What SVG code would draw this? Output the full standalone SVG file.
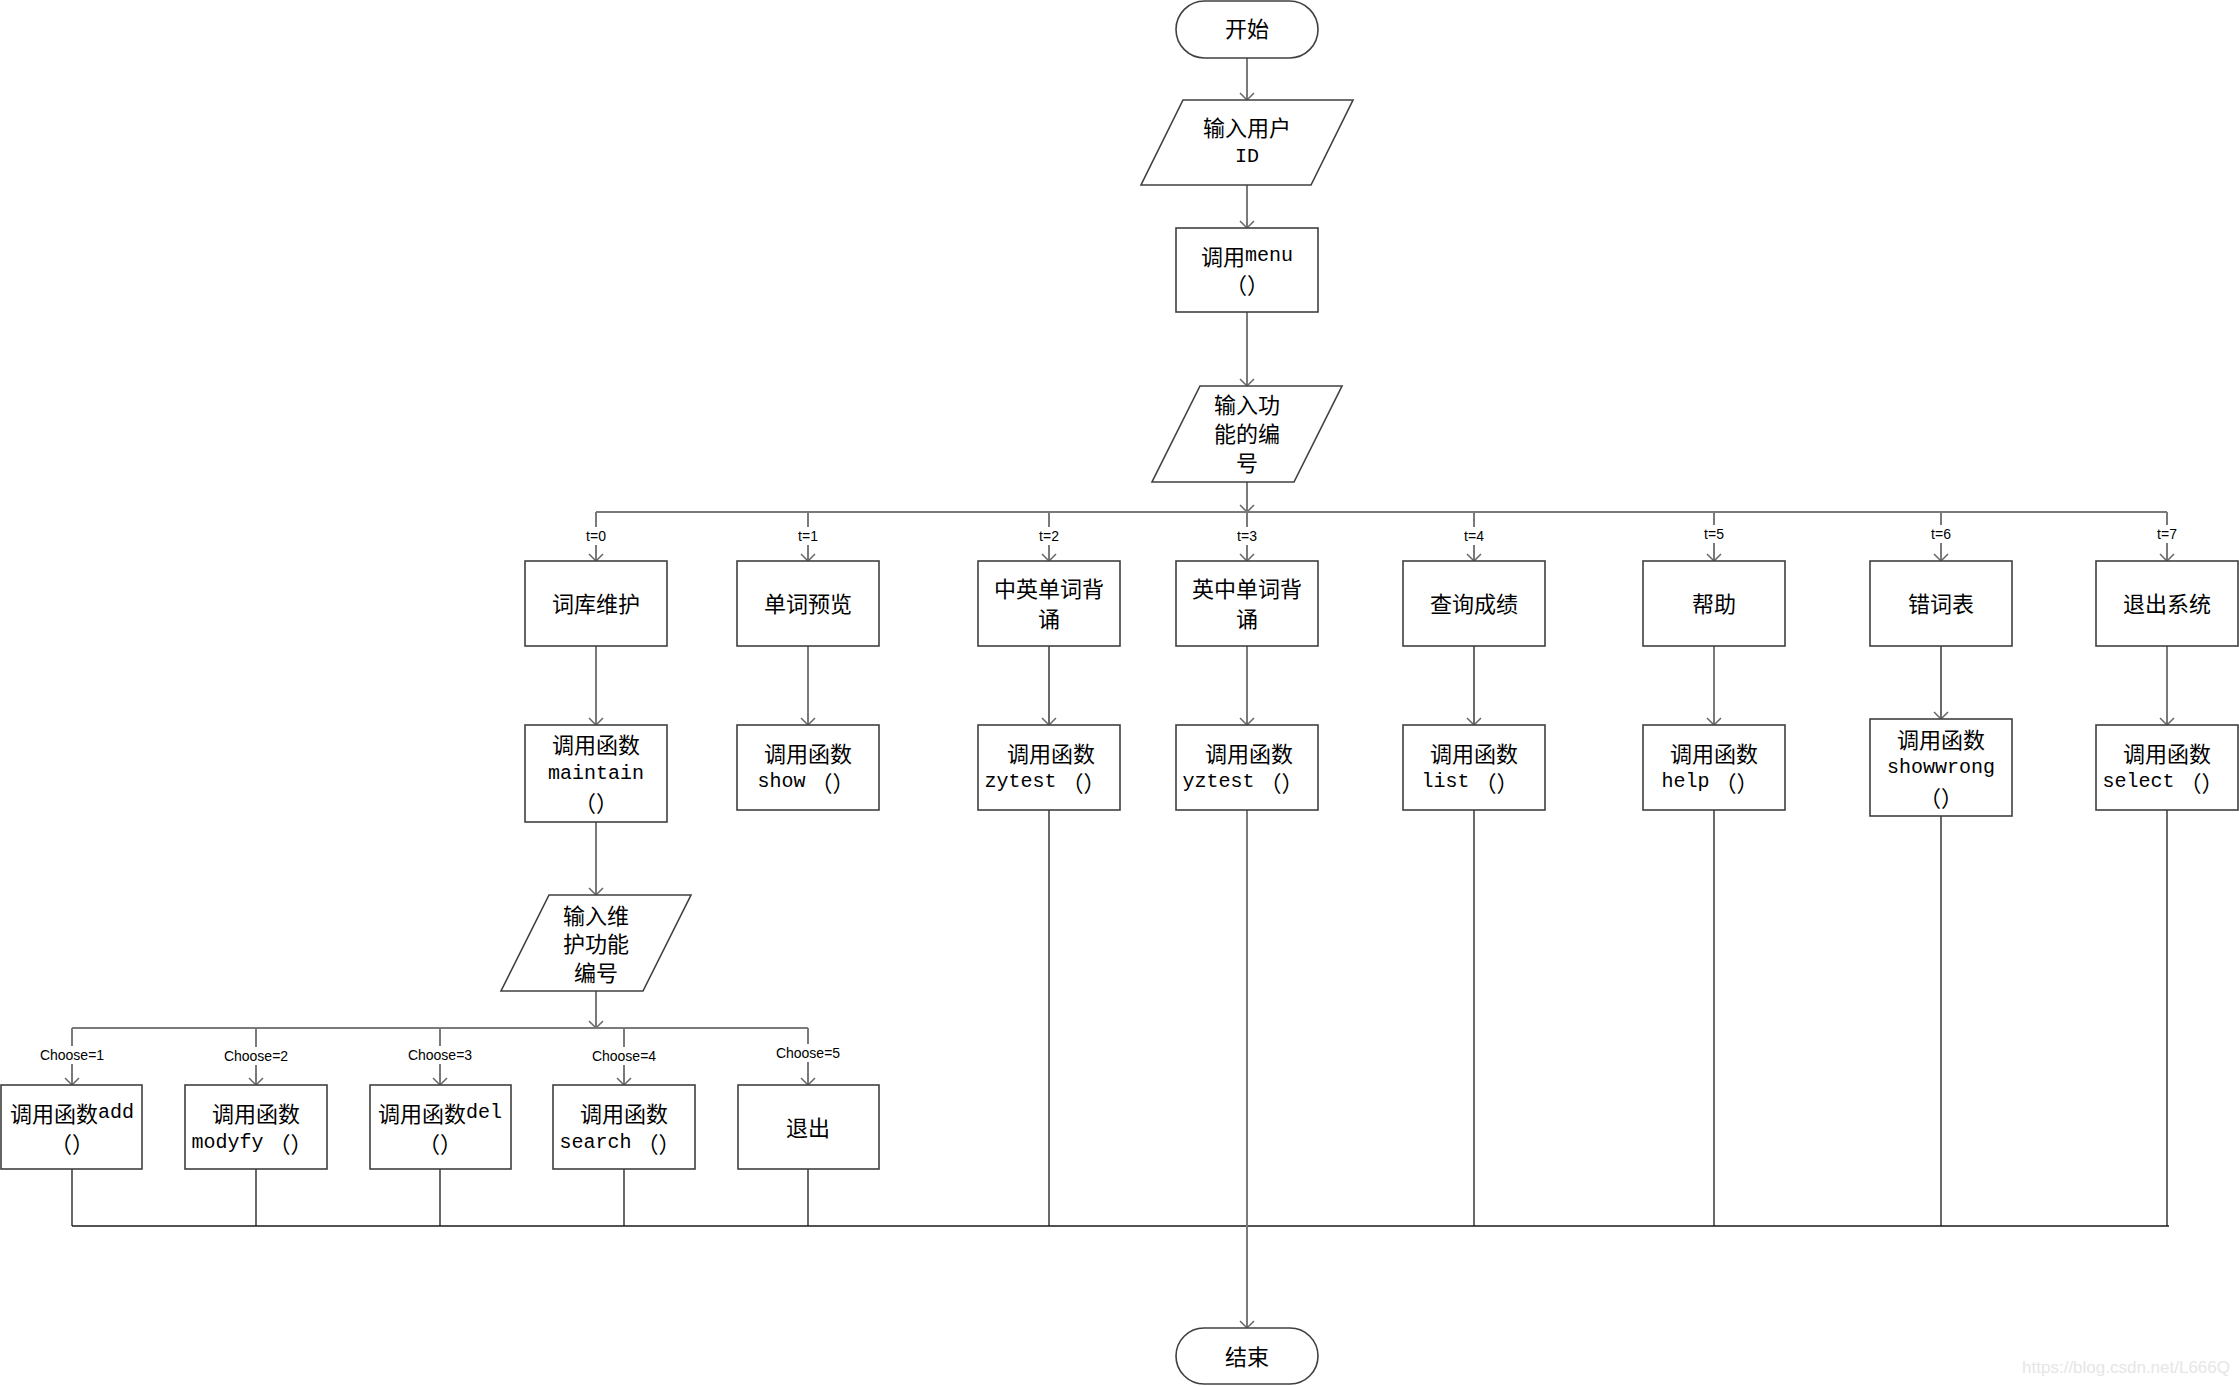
<svg xmlns="http://www.w3.org/2000/svg" width="2239" height="1386" viewBox="0 0 2239 1386">
<style>
.shape{fill:#fff;stroke:#404040;stroke-width:1.6}
.t{font-family:"Noto Sans CJK SC","Liberation Serif",sans-serif;font-size:22px;fill:#000;text-anchor:middle;dominant-baseline:central}
.m{font-family:"Liberation Mono","Noto Sans CJK SC",monospace;font-size:20px}
.lbl{font-family:"Liberation Sans","Noto Sans",sans-serif;font-size:14px;fill:#000;text-anchor:middle;dominant-baseline:central}
.g{fill:none;stroke:#7a7a7a;stroke-width:2}
.k{fill:none;stroke:#1a1a1a;stroke-width:1.3}
.bg{fill:#fff;stroke:none}
</style>
<defs>
<marker id="arr" markerUnits="userSpaceOnUse" markerWidth="16" markerHeight="16" viewBox="-8 -8 16 16" refX="0" refY="0" orient="auto">
<path d="M-7,-7 L0,0 L-7,7" fill="none" stroke="#666" stroke-width="1.5"/>
</marker>
</defs>
<rect width="2239" height="1386" fill="#fff"/>

<g id="connectors">
<line class="g" x1="1247" y1="58" x2="1247" y2="100" marker-end="url(#arr)"/>
<line class="g" x1="1247" y1="185" x2="1247" y2="228" marker-end="url(#arr)"/>
<line class="g" x1="1247" y1="312" x2="1247" y2="386" marker-end="url(#arr)"/>
<line class="g" x1="1247" y1="482" x2="1247" y2="512" marker-end="url(#arr)"/>
<line class="g" x1="596" y1="512" x2="2167" y2="512"/>
<line class="g" x1="596" y1="512" x2="596" y2="561" marker-end="url(#arr)"/>
<line class="g" x1="808" y1="512" x2="808" y2="561" marker-end="url(#arr)"/>
<line class="g" x1="1049" y1="512" x2="1049" y2="561" marker-end="url(#arr)"/>
<line class="g" x1="1247" y1="512" x2="1247" y2="561" marker-end="url(#arr)"/>
<line class="g" x1="1474" y1="512" x2="1474" y2="561" marker-end="url(#arr)"/>
<line class="g" x1="1714" y1="512" x2="1714" y2="561" marker-end="url(#arr)"/>
<line class="g" x1="1941" y1="512" x2="1941" y2="561" marker-end="url(#arr)"/>
<line class="g" x1="2167" y1="512" x2="2167" y2="561" marker-end="url(#arr)"/>
<rect class="bg" x="582" y="527" width="28" height="18"/>
<rect class="bg" x="794" y="527" width="28" height="18"/>
<rect class="bg" x="1035" y="527" width="28" height="18"/>
<rect class="bg" x="1233" y="527" width="28" height="18"/>
<rect class="bg" x="1460" y="527" width="28" height="18"/>
<rect class="bg" x="1700" y="525" width="28" height="18"/>
<rect class="bg" x="1927" y="525" width="28" height="18"/>
<rect class="bg" x="2153" y="525" width="28" height="18"/>
<text class="lbl" x="596" y="536">t=0</text>
<text class="lbl" x="808" y="536">t=1</text>
<text class="lbl" x="1049" y="536">t=2</text>
<text class="lbl" x="1247" y="536">t=3</text>
<text class="lbl" x="1474" y="536">t=4</text>
<text class="lbl" x="1714" y="534">t=5</text>
<text class="lbl" x="1941" y="534">t=6</text>
<text class="lbl" x="2167" y="534">t=7</text>

<line class="g" x1="596" y1="646" x2="596" y2="725" marker-end="url(#arr)"/>
<line class="g" x1="808" y1="646" x2="808" y2="725" marker-end="url(#arr)"/>
<line class="k" x1="1049" y1="646" x2="1049" y2="725" marker-end="url(#arr)"/>
<line class="g" x1="1247" y1="646" x2="1247" y2="725" marker-end="url(#arr)"/>
<line class="k" x1="1474" y1="646" x2="1474" y2="725" marker-end="url(#arr)"/>
<line class="g" x1="1714" y1="646" x2="1714" y2="725" marker-end="url(#arr)"/>
<line class="k" x1="1941" y1="646" x2="1941" y2="719" marker-end="url(#arr)"/>
<line class="g" x1="2167" y1="646" x2="2167" y2="725" marker-end="url(#arr)"/>

<line class="g" x1="596" y1="822" x2="596" y2="895" marker-end="url(#arr)"/>
<line class="g" x1="596" y1="991" x2="596" y2="1028" marker-end="url(#arr)"/>
<line class="g" x1="72" y1="1028" x2="808" y2="1028"/>
<line class="g" x1="72" y1="1028" x2="72" y2="1085" marker-end="url(#arr)"/>
<line class="g" x1="256" y1="1028" x2="256" y2="1085" marker-end="url(#arr)"/>
<line class="g" x1="440" y1="1028" x2="440" y2="1085" marker-end="url(#arr)"/>
<line class="g" x1="624" y1="1028" x2="624" y2="1085" marker-end="url(#arr)"/>
<line class="g" x1="808" y1="1028" x2="808" y2="1085" marker-end="url(#arr)"/>
<rect class="bg" x="38" y="1046" width="68" height="18"/>
<rect class="bg" x="222" y="1047" width="68" height="18"/>
<rect class="bg" x="406" y="1046" width="68" height="18"/>
<rect class="bg" x="590" y="1047" width="68" height="18"/>
<rect class="bg" x="774" y="1044" width="68" height="18"/>
<text class="lbl" x="72" y="1055">Choose=1</text>
<text class="lbl" x="256" y="1056">Choose=2</text>
<text class="lbl" x="440" y="1055">Choose=3</text>
<text class="lbl" x="624" y="1056">Choose=4</text>
<text class="lbl" x="808" y="1053">Choose=5</text>

<line class="k" x1="72" y1="1169" x2="72" y2="1226"/>
<line class="k" x1="256" y1="1169" x2="256" y2="1226"/>
<line class="k" x1="440" y1="1169" x2="440" y2="1226"/>
<line class="k" x1="624" y1="1169" x2="624" y2="1226"/>
<line class="k" x1="808" y1="1169" x2="808" y2="1226"/>
<line class="k" x1="1049" y1="810" x2="1049" y2="1226"/>
<line class="k" x1="1474" y1="810" x2="1474" y2="1226"/>
<line class="k" x1="1714" y1="810" x2="1714" y2="1226"/>
<line class="k" x1="1941" y1="816" x2="1941" y2="1226"/>
<line class="k" x1="2167" y1="810" x2="2167" y2="1226"/>
<line class="k" x1="72" y1="1226" x2="2169" y2="1226"/>
<line class="g" x1="1247" y1="810" x2="1247" y2="1328" marker-end="url(#arr)"/>
</g>

<g id="start">
<rect class="shape" x="1176" y="1" width="142" height="57" rx="28.5"/>
<text class="t" x="1247" y="27">开始</text>
</g>
<g id="input-id">
<polygon class="shape" points="1183,100 1353,100 1311,185 1141,185"/>
<text class="t" x="1247" y="126">输入用户</text>
<text class="t" x="1247" y="156"><tspan class="m">ID</tspan></text>
</g>
<g id="menu">
<rect class="shape" x="1176" y="228" width="142" height="84"/>
<text class="t" x="1247" y="255">调用<tspan class="m">menu</tspan></text>
<text class="t" x="1247" y="283">（）</text>
</g>
<g id="input-func">
<polygon class="shape" points="1200,386 1342,386 1294,482 1152,482"/>
<text class="t" x="1247" y="403">输入功</text>
<text class="t" x="1247" y="432">能的编</text>
<text class="t" x="1247" y="461">号</text>
</g>

<g id="n0">
<rect class="shape" x="525" y="561" width="142" height="85"/>
<text class="t" x="596" y="602">词库维护</text>
</g>
<g id="n1">
<rect class="shape" x="737" y="561" width="142" height="85"/>
<text class="t" x="808" y="602">单词预览</text>
</g>
<g id="n2">
<rect class="shape" x="978" y="561" width="142" height="85"/>
<text class="t" x="1049" y="587">中英单词背</text>
<text class="t" x="1049" y="617">诵</text>
</g>
<g id="n3">
<rect class="shape" x="1176" y="561" width="142" height="85"/>
<text class="t" x="1247" y="587">英中单词背</text>
<text class="t" x="1247" y="617">诵</text>
</g>
<g id="n4">
<rect class="shape" x="1403" y="561" width="142" height="85"/>
<text class="t" x="1474" y="602">查询成绩</text>
</g>
<g id="n5">
<rect class="shape" x="1643" y="561" width="142" height="85"/>
<text class="t" x="1714" y="602">帮助</text>
</g>
<g id="n6">
<rect class="shape" x="1870" y="561" width="142" height="85"/>
<text class="t" x="1941" y="602">错词表</text>
</g>
<g id="n7">
<rect class="shape" x="2096" y="561" width="142" height="85"/>
<text class="t" x="2167" y="602">退出系统</text>
</g>

<g id="f0">
<rect class="shape" x="525" y="725" width="142" height="97"/>
<text class="t" x="596" y="743">调用函数</text>
<text class="t" x="596" y="773"><tspan class="m">maintain</tspan></text>
<text class="t" x="596" y="801">（）</text>
</g>
<g id="f1">
<rect class="shape" x="737" y="725" width="142" height="85"/>
<text class="t" x="808" y="752">调用函数</text>
<text class="t" x="806" y="781"><tspan class="m">show</tspan> （）</text>
</g>
<g id="f2">
<rect class="shape" x="978" y="725" width="142" height="85"/>
<text class="t" x="1051" y="752">调用函数</text>
<text class="t" x="1045" y="781"><tspan class="m">zytest</tspan> （）</text>
</g>
<g id="f3">
<rect class="shape" x="1176" y="725" width="142" height="85"/>
<text class="t" x="1249" y="752">调用函数</text>
<text class="t" x="1243" y="781"><tspan class="m">yztest</tspan> （）</text>
</g>
<g id="f4">
<rect class="shape" x="1403" y="725" width="142" height="85"/>
<text class="t" x="1474" y="752">调用函数</text>
<text class="t" x="1470" y="781"><tspan class="m">list</tspan> （）</text>
</g>
<g id="f5">
<rect class="shape" x="1643" y="725" width="142" height="85"/>
<text class="t" x="1714" y="752">调用函数</text>
<text class="t" x="1710" y="781"><tspan class="m">help</tspan> （）</text>
</g>
<g id="f6">
<rect class="shape" x="1870" y="719" width="142" height="97"/>
<text class="t" x="1941" y="738">调用函数</text>
<text class="t" x="1941" y="767"><tspan class="m">showwrong</tspan></text>
<text class="t" x="1941" y="796">（）</text>
</g>
<g id="f7">
<rect class="shape" x="2096" y="725" width="142" height="85"/>
<text class="t" x="2167" y="752">调用函数</text>
<text class="t" x="2163" y="781"><tspan class="m">select</tspan> （）</text>
</g>

<g id="input-maint">
<polygon class="shape" points="549,895 691,895 643,991 501,991"/>
<text class="t" x="596" y="914">输入维</text>
<text class="t" x="596" y="942">护功能</text>
<text class="t" x="596" y="971">编号</text>
</g>

<g id="s1">
<rect class="shape" x="1" y="1085" width="141" height="84"/>
<text class="t" x="72" y="1112">调用函数<tspan class="m">add</tspan></text>
<text class="t" x="72" y="1142">（）</text>
</g>
<g id="s2">
<rect class="shape" x="185" y="1085" width="142" height="84"/>
<text class="t" x="256" y="1112">调用函数</text>
<text class="t" x="252" y="1142"><tspan class="m">modyfy</tspan> （）</text>
</g>
<g id="s3">
<rect class="shape" x="370" y="1085" width="141" height="84"/>
<text class="t" x="440" y="1112">调用函数<tspan class="m">del</tspan></text>
<text class="t" x="440" y="1142">（）</text>
</g>
<g id="s4">
<rect class="shape" x="553" y="1085" width="142" height="84"/>
<text class="t" x="624" y="1112">调用函数</text>
<text class="t" x="620" y="1142"><tspan class="m">search</tspan> （）</text>
</g>
<g id="s5">
<rect class="shape" x="738" y="1085" width="141" height="84"/>
<text class="t" x="808" y="1126">退出</text>
</g>

<g id="end">
<rect class="shape" x="1176" y="1328" width="142" height="56" rx="28"/>
<text class="t" x="1247" y="1355">结束</text>
</g>

<text x="2230" y="1373" font-family="Liberation Sans, sans-serif" font-size="17" fill="#e6e6e6" text-anchor="end">https://blog.csdn.net/L666Q</text>
</svg>
